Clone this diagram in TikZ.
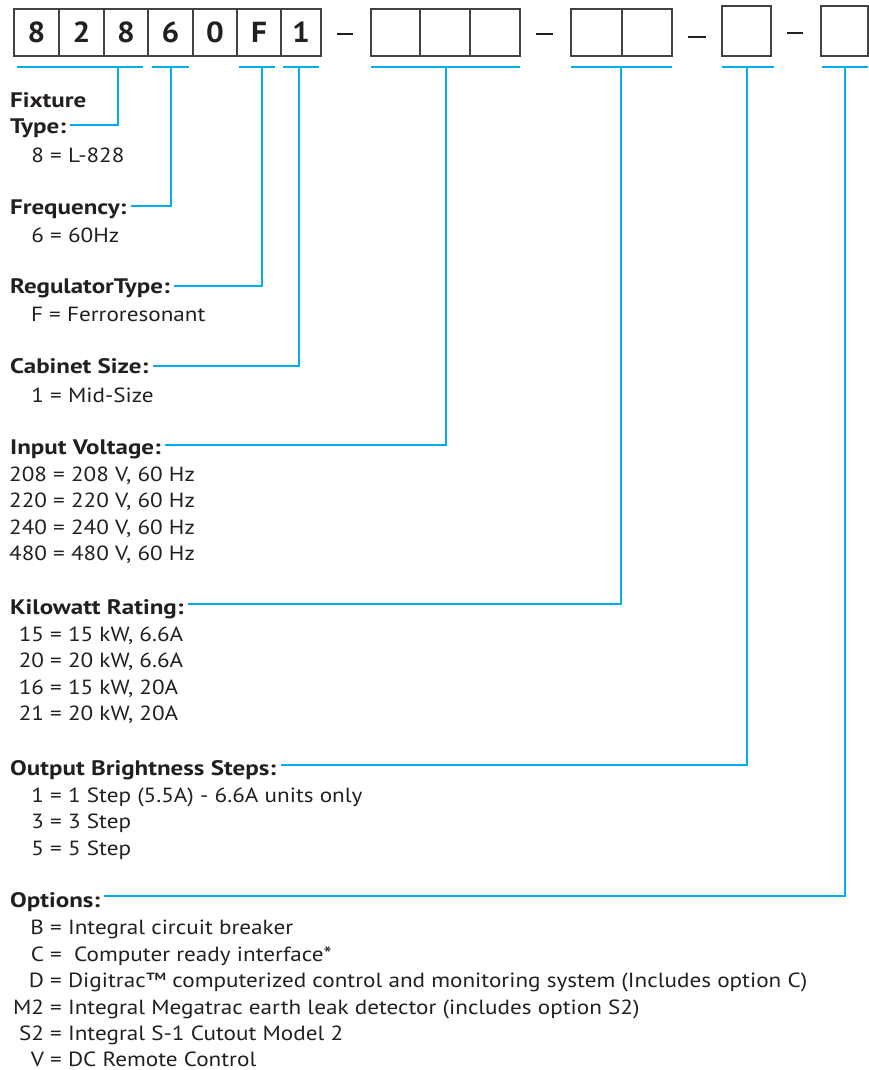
\documentclass[tikz,border=0pt]{standalone}
\usepackage{fontspec}
\setmainfont{PT Sans}[FakeStretch=1.13]
\newfontfamily\headfont{PT Sans}[FakeStretch=1.19]
\newfontfamily\cellfont{PT Sans}[FakeStretch=1.08]
\usetikzlibrary{calc}
\definecolor{cyanline}{RGB}{0,174,239}
\definecolor{ink}{RGB}{35,31,32}
\begin{document}
\begin{tikzpicture}[x=1pt,y=-1pt,
  conn/.style={draw=cyanline,line width=2.6pt},
  cell/.style={draw=ink!85,line width=1.4pt,minimum height=47pt,inner sep=0pt,
    font=\cellfont\fontsize{29}{31}\selectfont\bfseries,text=ink},
  head/.style={anchor=base west,inner sep=0pt,font=\headfont\fontsize{21}{24}\selectfont\bfseries,text=ink},
  item/.style={anchor=base west,inner sep=0pt,font=\fontsize{20.5}{24}\selectfont,text=ink},
  sep/.style={draw=ink,line width=1.3pt}]
\useasboundingbox (0,0) rectangle (869,1070);
% code boxes
\node[cell,minimum width=45pt] (b1) at (36.5,32.5) {8};
\node[cell,minimum width=45pt] (b2) at (81.5,32.5) {2};
\node[cell,minimum width=44pt] (b3) at (126,32.5) {8};
\node[cell,minimum width=45pt] (b4) at (170.5,32.5) {6};
\node[cell,minimum width=44pt] (b5) at (215,32.5) {0};
\node[cell,minimum width=44pt] (b6) at (259,32.5) {F};
\node[cell,minimum width=40pt] (b7) at (301,32.5) {1};
\node[cell,minimum width=49pt] (c1) at (395.5,32.5) {};
\node[cell,minimum width=50pt] (c2) at (445,32.5) {};
\node[cell,minimum width=50pt] (c3) at (495,32.5) {};
\node[cell,minimum width=51pt] (d1) at (596.5,32.5) {};
\node[cell,minimum width=50pt] (d2) at (647,32.5) {};
\node[cell,minimum width=49pt,minimum height=50pt] (e1) at (746.5,31) {};
\node[cell,minimum width=47pt,minimum height=50pt] (f1) at (844.5,31) {};
% dashes
\coordinate (s1a) at (337,34); \coordinate (s1b) at (353,34);
\coordinate (s2a) at (536,34); \coordinate (s2b) at (553,34);
\coordinate (s3a) at (688,37); \coordinate (s3b) at (706,37);
\coordinate (s4a) at (787,33); \coordinate (s4b) at (803,33);
\draw[sep] (s1a) -- (s1b);
\draw[sep] (s2a) -- (s2b);
\draw[sep] (s3a) -- (s3b);
\draw[sep] (s4a) -- (s4b);
% underlines
\coordinate (u1a) at (17,67);  \coordinate (u1b) at (143,67); \coordinate (u1) at (118,67);
\coordinate (u2a) at (152,67); \coordinate (u2b) at (189,67); \coordinate (u2) at (171,67);
\coordinate (u3a) at (239,67); \coordinate (u3b) at (275,67); \coordinate (u3) at (262,67);
\coordinate (u4a) at (283,67); \coordinate (u4b) at (319,67); \coordinate (u4) at (299,67);
\coordinate (u5a) at (371,67); \coordinate (u5b) at (520,67); \coordinate (u5) at (446,67);
\coordinate (u6a) at (571,67); \coordinate (u6b) at (672,67); \coordinate (u6) at (621,67);
\coordinate (u7a) at (722,67); \coordinate (u7b) at (774,67); \coordinate (u7) at (747,67);
\coordinate (u8a) at (822,67); \coordinate (u8b) at (868,67); \coordinate (u8) at (845,67);
\foreach \i in {1,...,8} {\draw[conn] (u\i a) -- (u\i b);}
% headings
\node[head] (hFix) at (10,108) {Fixture};
\node[head] (hType) at (10,133) {Type:};
\node[item] (iType) at (50,162) {\llap{8\ }= L-828};
\node[head] (hFreq) at (10,214) {Frequency:};
\node[item] (iFreq) at (50,242) {\llap{6\ }= 60Hz};
\node[head] (hReg) at (10,293) {RegulatorType:};
\node[item] (iReg) at (49,321) {\llap{F\ }= Ferroresonant};
\node[head] (hCab) at (10,373) {Cabinet Size:};
\node[item] (iCab) at (50,402) {\llap{1\ }= Mid-Size};
\node[head] (hIn) at (10,454) {Input Voltage:};
\node[item] (iIn1) at (9,481) {208 = 208 V, 60 Hz};
\node[item] (iIn2) at (9,507.5) {220 = 220 V, 60 Hz};
\node[item] (iIn3) at (9,534) {240 = 240 V, 60 Hz};
\node[item] (iIn4) at (9,560.5) {480 = 480 V, 60 Hz};
\node[head] (hKw) at (10,614) {Kilowatt Rating:};
\node[item] (iKw1) at (50,641) {\llap{15\ }= 15 kW, 6.6A};
\node[item] (iKw2) at (50,667.5) {\llap{20\ }= 20 kW, 6.6A};
\node[item] (iKw3) at (50,694) {\llap{16\ }= 15 kW, 20A};
\node[item] (iKw4) at (50,720.5) {\llap{21\ }= 20 kW, 20A};
\node[head] (hOut) at (10,775) {Output Brightness Steps:};
\node[item] (iOut1) at (50,802) {\llap{1\ }= 1 Step (5.5A) - 6.6A units only};
\node[item] (iOut2) at (50,828.5) {\llap{3\ }= 3 Step};
\node[item] (iOut3) at (50,855) {\llap{5\ }= 5 Step};
\node[head] (hOpt) at (10,907) {Options:};
\node[item] (iOpt1) at (50,934.5) {\llap{B\ }= Integral circuit breaker};
\node[item] (iOpt2) at (50,961) {\llap{C\ }=\ \ Computer ready interface*};
\node[item] (iOpt3) at (50,987.5) {\llap{D\ }= Digitrac™ computerized control and monitoring system (Includes option C)};
\node[item] (iOpt4) at (50,1014) {\llap{M2\ }= Integral Megatrac earth leak detector (includes option S2)};
\node[item] (iOpt5) at (50,1040) {\llap{S2\ }= Integral S-1 Cutout Model 2};
\node[item] (iOpt6) at (50,1066) {\llap{V\ }= DC Remote Control};
% connectors
\draw[conn] (hType.base east) ++(4,-8) -| (u1);
\draw[conn] (hFreq.base east) ++(4,-8) -| (u2);
\draw[conn] (hReg.base east) ++(4,-7) -| (u3);
\draw[conn] (hCab.base east) ++(4,-7) -| (u4);
\draw[conn] (hIn.base east) ++(4,-9) -| (u5);
\draw[conn] (hKw.base east) ++(4,-10) -| (u6);
\draw[conn] (hOut.base east) ++(5,-10) -| (u7);
\draw[conn] (hOpt.base east) ++(4,-11) -| (u8);
\end{tikzpicture}
\end{document}
